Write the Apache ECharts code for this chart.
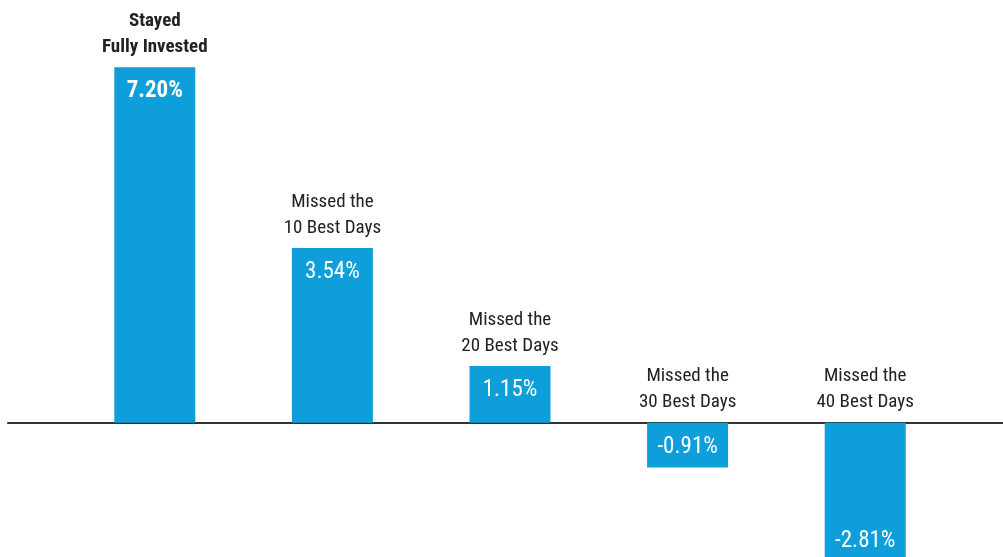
<!DOCTYPE html>
<html>
<head>
<meta charset="utf-8">
<script src="https://cdn.jsdelivr.net/npm/echarts@6/dist/echarts.min.js"></script>
<style>html,body{margin:0;padding:0;background:#fff;}#c{width:1003px;height:557px;}</style>
</head>
<body>
<div id="c"></div>
<script>
const categories = ['Stayed\nFully Invested', 'Missed the\n10 Best Days', 'Missed the\n20 Best Days', 'Missed the\n30 Best Days', 'Missed the\n40 Best Days'];
const values = [7.20, 3.54, 1.15, -0.91, -2.81];
const FONT = '"Roboto Condensed", Roboto, sans-serif';
const BLUE = '#0e9fda';

const chart = echarts.init(document.getElementById('c'));
const yMin = -2.72, yMax = 8.56;

const valueData = values.map((v, i) => ({
  value: v,
  label: {
    position: v >= 0 ? 'insideTop' : 'insideBottom',
    distance: v >= 0 ? 13 : 9,
    fontWeight: i === 0 ? 'bold' : 'normal'
  }
}));
const nameData = values.map((v, i) => ({
  value: v,
  label: { fontWeight: i === 0 ? 'bold' : 'normal' }
}));

chart.setOption({
  animation: false,
  grid: [
    { left: 66, right: 49, top: 0, bottom: 0 },
    { left: 8, right: 0, top: 0, bottom: 0 }
  ],
  xAxis: [
    { type: 'category', gridIndex: 0, data: categories, axisLine: { show: false }, axisTick: { show: false }, axisLabel: { show: false } },
    { type: 'value', gridIndex: 1, min: 0, max: 1, axisLine: { show: true, onZero: true, lineStyle: { color: '#333', width: 2 } }, axisTick: { show: false }, axisLabel: { show: false }, splitLine: { show: false } }
  ],
  yAxis: [
    { type: 'value', gridIndex: 0, min: yMin, max: yMax, show: false, splitLine: { show: false } },
    { type: 'value', gridIndex: 1, min: yMin, max: yMax, show: false, splitLine: { show: false } }
  ],
  series: [
    {
      type: 'bar', xAxisIndex: 0, yAxisIndex: 0, barWidth: 81, z: 3, clip: false,
      itemStyle: { color: BLUE },
      data: valueData,
      label: {
        show: true, color: '#fff', fontFamily: FONT, fontSize: 23,
        formatter: p => p.value.toFixed(2) + '%'
      }
    },
    {
      type: 'bar', xAxisIndex: 0, yAxisIndex: 0, barWidth: 81, barGap: '-100%', z: 2, clip: false,
      itemStyle: { color: 'rgba(0,0,0,0)' },
      data: nameData,
      label: {
        show: true, position: 'top', distance: 7, color: '#222', fontFamily: FONT, fontSize: 19, lineHeight: 26,
        formatter: p => categories[p.dataIndex]
      }
    }
  ]
});
</script>
</body>
</html>
